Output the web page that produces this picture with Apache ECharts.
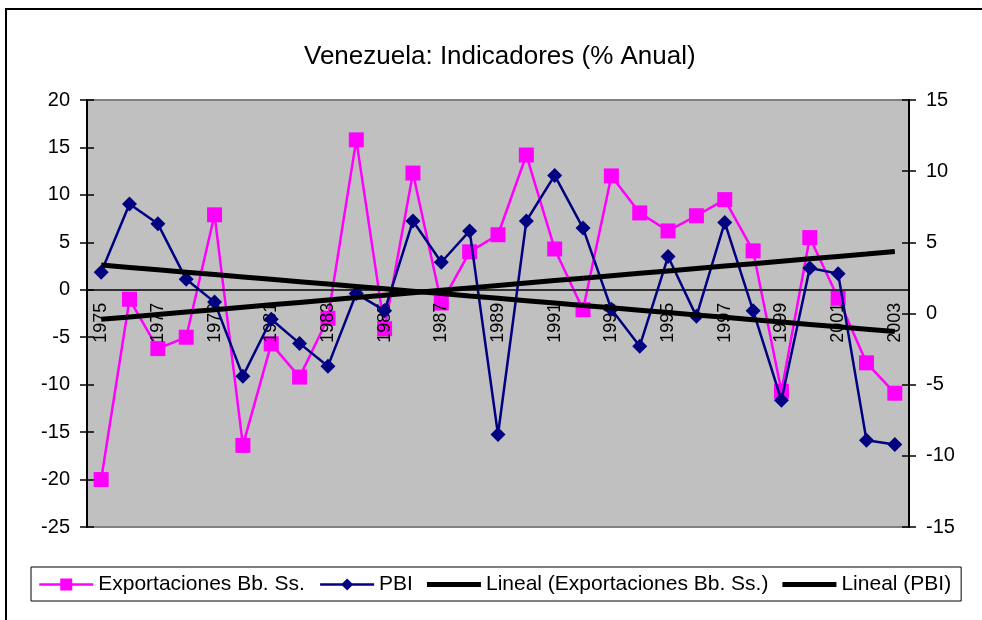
<!DOCTYPE html>
<html>
<head>
<meta charset="utf-8">
<title>Venezuela: Indicadores</title>
<script src="https://cdn.jsdelivr.net/npm/echarts@6/dist/echarts.min.js"></script>
<style>
  html, body { margin: 0; padding: 0; background: #fff; }
  #main { width: 982px; height: 620px; }
</style>
</head>
<body>
<div id="main"></div>
<script>
var years = ['1975','1976','1977','1978','1979','1980','1981','1982','1983','1984',
  '1985','1986','1987','1988','1989','1990','1991','1992','1993','1994',
  '1995','1996','1997','1998','1999','2000','2001','2002','2003'];
// % anual, eje izquierdo
var exportaciones = [-20.0, -1.0, -6.2, -5.0, 7.9, -16.4, -5.7, -9.2, -3.0, 15.8,
  -4.1, 12.3, -1.4, 4.0, 5.8, 14.2, 4.3, -2.1, 12.0, 8.1,
  6.2, 7.8, 9.5, 4.1, -10.7, 5.5, -0.9, -7.7, -10.9];
// % anual, eje derecho
var pbi = [2.9, 7.7, 6.3, 2.4, 0.8, -4.4, -0.4, -2.1, -3.7, 1.4,
  0.2, 6.5, 3.6, 5.8, -8.5, 6.5, 9.7, 6.0, 0.3, -2.3,
  4.0, -0.2, 6.4, 0.2, -6.1, 3.2, 2.8, -8.9, -9.2];
var leftRange = [-25, 20];
var rightRange = [-15, 15];
var step = 5;

// tendencia lineal (minimos cuadrados), como la de Excel
function lineal(values) {
  var n = values.length, sx = 0, sy = 0, sxy = 0, sxx = 0;
  values.forEach(function (v, i) {
    var x = i + 1;
    sx += x; sy += v; sxy += x * v; sxx += x * x;
  });
  var b = (n * sxy - sx * sy) / (n * sxx - sx * sx);
  var a = (sy - b * sx) / n;
  return values.map(function (v, i) { return +(a + b * (i + 1)).toFixed(3); });
}

var font = 'Liberation Sans, Arial, sans-serif';
var W = 982, H = 620;
var plot = { left: 87, right: 73, top: 100, bottom: 93 };
// el eje de categorias cruza en el 0 del eje izquierdo
var plotH = H - plot.top - plot.bottom;
var zeroOffset = plotH * leftRange[1] / (leftRange[1] - leftRange[0]);

var myChart = echarts.init(document.getElementById('main'));

function yAxisBase(pos, range, extra) {
  return Object.assign({
    type: 'value',
    gridIndex: 0,
    position: pos,
    min: range[0],
    max: range[1],
    interval: step,
    splitLine: { show: false },
    axisLine: { show: true, onZero: false, lineStyle: { color: '#000', width: 2 } },
    axisTick: { show: true, length: 7, lineStyle: { color: '#000', width: 1.5 } },
    axisLabel: { color: '#000', fontSize: 20, fontFamily: font, margin: 17 }
  }, extra || {});
}
var innerTicks = {
  axisLine: { show: false },
  axisTick: { show: true, inside: true, length: 7, lineStyle: { color: '#000', width: 1.5 } },
  axisLabel: { show: false }
};

function trendLegend(name) {
  return {
    name: name,
    icon: 'path://M0,0H54V5H0Z',
    itemStyle: { color: '#000' },
    lineStyle: { color: '#000', width: 5 }
  };
}

var option = {
  backgroundColor: '#fff',
  animation: false,
  title: {
    text: 'Venezuela: Indicadores (% Anual)',
    left: 299,
    top: 39,
    textStyle: { color: '#000', fontSize: 26, fontWeight: 'normal', fontFamily: font }
  },
  graphic: [{
    type: 'rect',
    shape: { x: 6, y: 9, width: 1000, height: 700 },
    style: { fill: null, stroke: '#000', lineWidth: 2 },
    z: -1
  }],
  legend: {
    left: 31,
    top: 567,
    padding: [7, 10, 6, 7],
    itemGap: 14,
    itemWidth: 54,
    itemHeight: 15,
    borderColor: '#000',
    borderWidth: 1,
    backgroundColor: '#fff',
    textStyle: { color: '#000', fontSize: 21, fontFamily: font },
    data: [
      { name: 'Exportaciones Bb. Ss.', lineStyle: { width: 2.5 } },
      { name: 'PBI', lineStyle: { width: 2.5 } },
      trendLegend('Lineal (Exportaciones Bb. Ss.)'),
      trendLegend('Lineal (PBI)')
    ]
  },
  grid: [{
    left: plot.left,
    right: plot.right,
    top: plot.top,
    bottom: plot.bottom,
    show: true,
    backgroundColor: '#c0c0c0',
    borderColor: '#808080',
    borderWidth: 2
  }, {
    left: plot.left,
    right: plot.right,
    top: plot.top,
    height: zeroOffset
  }],
  xAxis: [{
    type: 'category',
    gridIndex: 0,
    data: years,
    boundaryGap: true,
    show: false
  }, {
    type: 'category',
    gridIndex: 1,
    data: years,
    position: 'bottom',
    boundaryGap: true,
    z: 3,
    axisLine: { onZero: false, lineStyle: { color: '#000', width: 1.5 } },
    axisTick: { interval: 0, length: 6, lineStyle: { color: '#000', width: 1.5 } },
    axisLabel: { interval: 1, rotate: 90, margin: 13, color: '#000', fontSize: 18, fontFamily: font }
  }, {
    type: 'category',
    gridIndex: 1,
    data: years,
    position: 'bottom',
    boundaryGap: true,
    z: 3,
    axisLine: { show: false, onZero: false },
    axisTick: { interval: 0, inside: true, length: 6, lineStyle: { color: '#000', width: 1.5 } },
    axisLabel: { show: false }
  }],
  yAxis: [
    yAxisBase('left', leftRange),
    yAxisBase('right', rightRange),
    yAxisBase('left', leftRange, innerTicks),
    yAxisBase('right', rightRange, innerTicks),
    { type: 'value', gridIndex: 1, min: 0, max: leftRange[1], show: false }
  ],
  series: [{
    name: 'Exportaciones Bb. Ss.',
    type: 'line',
    xAxisIndex: 0,
    yAxisIndex: 0,
    data: exportaciones,
    symbol: 'rect',
    symbolSize: 15,
    color: '#ff00ff',
    lineStyle: { color: '#ff00ff', width: 2.5 },
    itemStyle: { color: '#ff00ff' },
    z: 2
  }, {
    name: 'PBI',
    type: 'line',
    xAxisIndex: 0,
    yAxisIndex: 1,
    data: pbi,
    symbol: 'diamond',
    symbolSize: 15,
    color: '#000080',
    lineStyle: { color: '#000080', width: 2.5 },
    itemStyle: { color: '#000080' },
    z: 3
  }, {
    name: 'Lineal (Exportaciones Bb. Ss.)',
    type: 'line',
    xAxisIndex: 0,
    yAxisIndex: 0,
    data: lineal(exportaciones),
    symbol: 'none',
    color: '#000',
    lineStyle: { color: '#000', width: 5 },
    z: 4
  }, {
    name: 'Lineal (PBI)',
    type: 'line',
    xAxisIndex: 0,
    yAxisIndex: 1,
    data: lineal(pbi),
    symbol: 'none',
    color: '#000',
    lineStyle: { color: '#000', width: 5 },
    z: 4
  }]
};
myChart.setOption(option);
</script>
</body>
</html>
